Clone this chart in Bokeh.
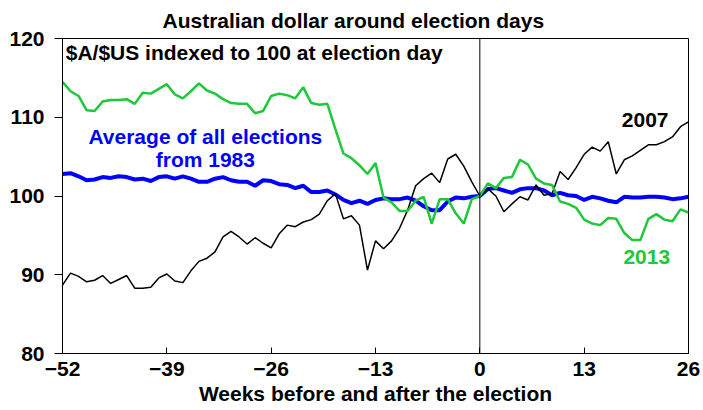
from bokeh.plotting import figure
from bokeh.models import ColumnDataSource, Range1d, FixedTicker, Label, Span
from bokeh.embed import file_html
from bokeh.resources import INLINE

weeks = list(range(-52, 27))

aud_2007 = [88.7, 90.2, 89.8, 89.1, 89.3, 89.9, 88.9, 89.4, 89.9, 88.3, 88.3, 88.4,
            89.6, 90.1, 89.2, 89.0, 90.5, 91.7, 92.1, 92.9, 94.8, 95.5, 94.8, 93.9,
            94.7, 94.0, 93.4, 95.2, 96.3, 96.1, 96.7, 97.0, 97.7, 99.4, 100.3, 97.1,
            97.5, 96.3, 90.6, 94.3, 93.3, 94.3, 95.9, 98.2, 101.3, 102.2, 102.9, 101.7,
            104.7, 105.3, 103.8, 101.8, 100.0, 100.9, 100.0, 98.0, 99.0, 99.9, 99.5,
            101.4, 100.1, 100.3, 103.1, 102.1, 103.6, 105.3, 106.2, 105.7, 106.9, 102.8,
            104.6, 105.1, 105.8, 106.5, 106.5, 106.9, 107.5, 108.8, 109.4]

aud_2013 = [114.5, 113.3, 112.7, 110.9, 110.8, 112.0, 112.2, 112.2, 112.3, 111.7, 113.1, 113.0,
            113.6, 114.2, 112.9, 112.4, 113.3, 114.3, 113.4, 113.0, 112.3, 111.8, 111.7, 111.7,
            110.5, 110.8, 112.7, 113.0, 112.8, 112.4, 113.8, 111.8, 111.6, 111.7, 108.5, 105.4,
            104.8, 103.9, 102.8, 104.2, 99.8, 99.2, 98.1, 98.1, 99.4, 99.9, 96.5, 99.6,
            99.6, 97.8, 96.5, 99.6, 100.0, 101.6, 101.0, 102.3, 102.4, 104.6, 104.0,
            102.2, 101.6, 101.4, 99.3, 99.0, 98.5, 97.0, 96.5, 96.3, 97.2, 97.1,
            95.3, 94.4, 94.4, 97.1, 97.7, 97.0, 96.8, 98.3, 97.9]

aud_avg = [102.8, 102.9, 102.5, 102.0, 102.1, 102.4, 102.3, 102.5, 102.4, 102.1, 102.2, 101.9,
           102.4, 102.5, 102.2, 102.5, 102.2, 101.8, 101.8, 102.2, 102.4, 102.0, 101.8, 101.8,
           101.3, 102.0, 101.9, 101.5, 101.4, 101.0, 101.3, 100.5, 100.5, 100.7, 100.2, 99.5,
           99.1, 99.4, 99.0, 99.5, 99.7, 99.6, 99.6, 99.8, 99.4, 98.7, 98.2, 98.2,
           99.3, 99.8, 99.7, 99.9, 100.0, 100.9, 101.0, 100.7, 100.4, 100.85, 101.0,
           101.0, 100.7, 100.1, 100.4, 100.1, 100.0, 99.5, 99.9, 99.7, 99.4, 99.2,
           99.9, 99.8, 99.8, 99.9, 99.9, 99.8, 99.6, 99.7, 99.9]

x_ticks = [-52, -39, -26, -13, 0, 13, 26]
y_ticks = [80, 90, 100, 110, 120]

FONT = "Liberation Sans"
FS = "21px"
GREEN = "#1ec83a"
BLUE = "#0000ff"

src = ColumnDataSource(dict(week=weeks, y2007=aud_2007, y2013=aud_2013, avg=aud_avg))

p = figure(width=702, height=409, output_backend="svg", toolbar_location=None,
           x_range=Range1d(-52, 26), y_range=Range1d(80, 120),
           min_border_left=62, min_border_right=14, min_border_top=38, min_border_bottom=56,
           title="Australian dollar around election days")
p.background_fill_color = "white"
p.border_fill_color = "white"
p.outline_line_color = "black"
p.outline_line_width = 1
p.xgrid.visible = False
p.ygrid.visible = False

p.title.align = "left"
p.title.offset = 100
p.title.standoff = 13
p.title.text_font = FONT
p.title.text_font_size = FS
p.title.text_font_style = "bold"
p.title.text_color = "black"

p.xaxis.ticker = FixedTicker(ticks=x_ticks)
p.yaxis.ticker = FixedTicker(ticks=y_ticks)
for ax in (p.xaxis[0], p.yaxis[0]):
    ax.axis_line_color = "black"
    ax.major_tick_line_color = "black"
    ax.minor_tick_line_color = None
    ax.major_label_text_font = FONT
    ax.major_label_text_font_size = FS
    ax.major_label_text_font_style = "bold"
    ax.major_label_text_color = "black"
p.xaxis.major_tick_in = 6
p.xaxis.major_tick_out = 0
p.xaxis.major_label_standoff = 8
p.xaxis.axis_label = "Weeks before and after the election"
p.xaxis.axis_label_standoff = 3
p.xaxis.axis_label_text_font = FONT
p.xaxis.axis_label_text_font_size = FS
p.xaxis.axis_label_text_font_style = "bold"
p.xaxis.axis_label_text_color = "black"
p.yaxis.major_tick_in = 0
p.yaxis.major_tick_out = 8
p.yaxis.major_label_standoff = 10

p.add_layout(Span(location=0, dimension="height", line_color="black", line_width=1))

p.line("week", "avg", source=src, line_color=BLUE, line_width=4)
p.line("week", "y2007", source=src, line_color="black", line_width=1.5)
p.line("week", "y2013", source=src, line_color=GREEN, line_width=2.5)

def lab(x, y, text, color="black", align="center"):
    p.add_layout(Label(x=x, y=y, text=text, text_color=color, text_font=FONT,
                       text_font_size=FS, text_font_style="bold",
                       text_align=align, text_baseline="middle"))

lab(-51.6, 118.2, "$A/$US indexed to 100 at election day", align="left")
lab(-34.2, 107.6, "Average of all elections", color=BLUE)
lab(-34.2, 104.6, "from 1983", color=BLUE)
lab(20.6, 109.6, "2007")
lab(20.8, 92.2, "2013", color=GREEN)

open("out.html", "w").write(file_html(p, INLINE))
